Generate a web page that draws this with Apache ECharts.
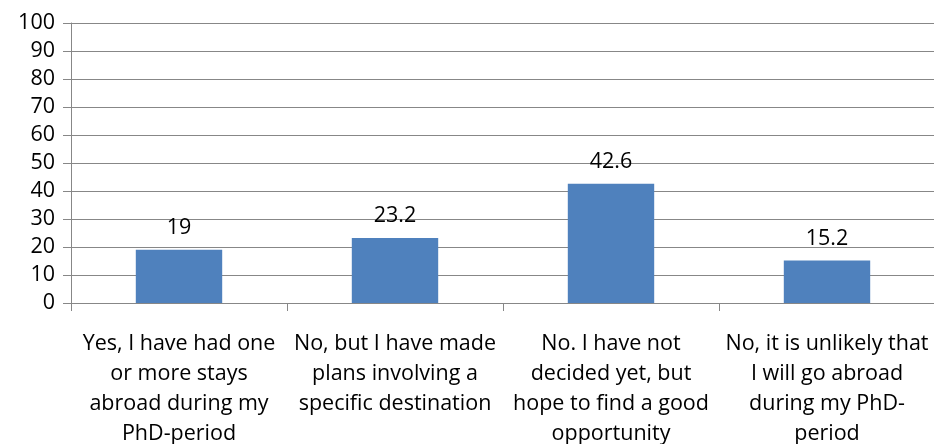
<!DOCTYPE html>
<html>
<head>
<meta charset="utf-8">
<script src="https://cdn.jsdelivr.net/npm/echarts@6/dist/echarts.min.js"></script>
<style>
  html, body { margin: 0; padding: 0; background: #ffffff; }
  #chart { width: 934px; height: 444px; }
</style>
</head>
<body>
<div id="chart"></div>
<script>
// Survey answers about stays abroad during the PhD period (percent)
const categories = [
  'Yes, I have had one\nor more stays\nabroad during my\nPhD-period',
  'No, but I have made\nplans involving a\nspecific destination',
  'No. I have not\ndecided yet, but\nhope to find a good\nopportunity',
  'No, it is unlikely that\nI will go abroad\nduring my PhD-\nperiod'
];
const values = [19, 23.2, 42.6, 15.2];
const yTicks = { min: 0, max: 100, interval: 10 };

const fontFamily = '"Open Sans", "Noto Sans", sans-serif';
const axisGray = '#878787';

const chart = echarts.init(document.getElementById('chart'), null, { renderer: 'canvas' });
chart.setOption({
  animation: false,
  backgroundColor: '#ffffff',
  grid: { left: 71, right: -1, top: 23, bottom: 141, containLabel: false, outerBoundsMode: 'none' },
  xAxis: {
    type: 'category',
    data: categories,
    axisLine: { show: true, lineStyle: { color: axisGray, width: 1 } },
    axisTick: { show: true, length: 8, lineStyle: { color: axisGray } },
    axisLabel: {
      interval: 0,
      margin: 26,
      color: '#000000',
      fontFamily: fontFamily,
      fontSize: 21.5,
      lineHeight: 30,
      align: 'center'
    }
  },
  yAxis: {
    type: 'value',
    min: yTicks.min,
    max: yTicks.max,
    interval: yTicks.interval,
    axisLine: { show: true, lineStyle: { color: axisGray, width: 1 } },
    axisTick: { show: true, length: 8, lineStyle: { color: axisGray } },
    splitLine: { show: true, lineStyle: { color: axisGray, width: 1 } },
    axisLabel: {
      margin: 16,
      color: '#000000',
      fontFamily: fontFamily,
      fontSize: 21.5
    }
  },
  series: [{
    type: 'bar',
    data: values,
    barWidth: '40%',
    itemStyle: { color: '#4F81BD' },
    label: {
      show: true,
      position: 'top',
      distance: 11,
      color: '#000000',
      fontFamily: fontFamily,
      fontSize: 21.5
    }
  }]
});
</script>
</body>
</html>
